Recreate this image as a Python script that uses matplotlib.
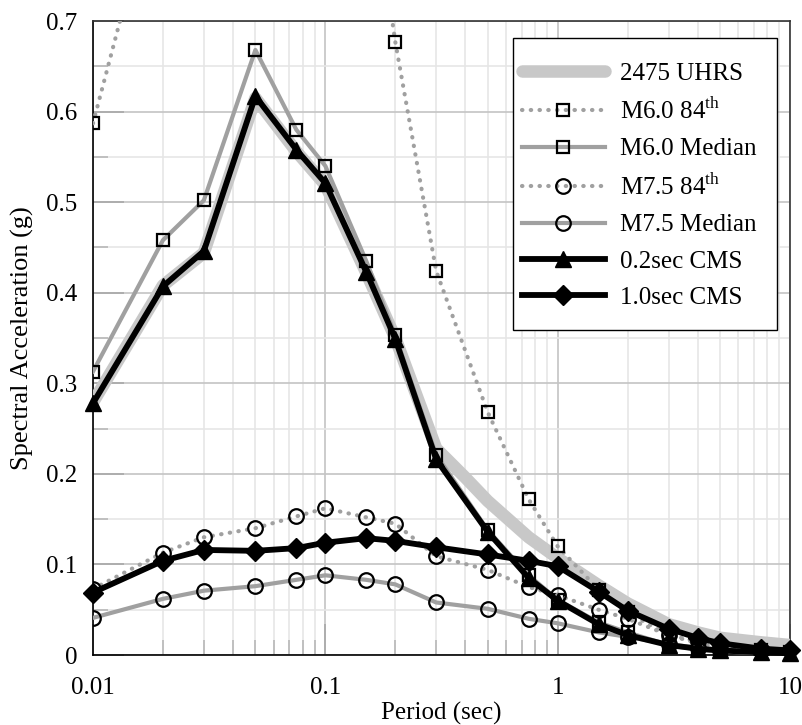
import matplotlib
matplotlib.use("Agg")
import matplotlib.pyplot as plt
from matplotlib.patches import Rectangle
from matplotlib.ticker import FixedLocator, NullFormatter, FixedFormatter

plt.rcParams['font.family'] = ['Liberation Serif', 'DejaVu Serif']
plt.rcParams['mathtext.fontset'] = 'custom'
plt.rcParams['mathtext.rm'] = 'Liberation Serif'

periods = [0.01, 0.02, 0.03, 0.05, 0.075, 0.1, 0.15, 0.2, 0.3, 0.5, 0.75,
           1.0, 1.5, 2.0, 3.0, 4.0, 5.0, 7.5, 10.0]
uhrs_periods = [0.01, 0.02, 0.03, 0.05, 0.075, 0.1, 0.15, 0.2, 0.3, 0.4, 0.5,
                0.75, 1.0, 1.5, 2.0, 3.0, 4.0, 5.0, 7.5, 10.0]
uhrs = [0.279, 0.408, 0.444, 0.615, 0.556, 0.519, 0.422, 0.350, 0.228, 0.196,
        0.170, 0.130, 0.107, 0.077, 0.057, 0.034, 0.025, 0.019, 0.014, 0.011]
m60_84 = [0.587, 0.88, 0.95, 1.20, 1.10, 1.05, 0.90, 0.677, 0.424, 0.268, 0.172,
          0.120, 0.072, 0.047, 0.022, 0.013, 0.009, 0.005, 0.003]
m60_med = [0.313, 0.458, 0.502, 0.668, 0.580, 0.540, 0.435, 0.353, 0.221, 0.138,
           0.088, 0.061, 0.036, 0.025, 0.011, 0.006, 0.004, 0.002, 0.001]
m75_84 = [0.073, 0.113, 0.130, 0.140, 0.153, 0.162, 0.152, 0.145, 0.109, 0.094,
          0.075, 0.066, 0.050, 0.040, 0.022, 0.015, 0.011, 0.006, 0.004]
m75_med = [0.041, 0.062, 0.071, 0.076, 0.083, 0.088, 0.083, 0.078, 0.058, 0.051,
           0.040, 0.035, 0.025, 0.020, 0.012, 0.008, 0.006, 0.003, 0.002]
cms_02 = [0.278, 0.407, 0.446, 0.617, 0.558, 0.521, 0.423, 0.349, 0.216, 0.136,
          0.085, 0.060, 0.034, 0.022, 0.011, 0.007, 0.005, 0.003, 0.002]
cms_10 = [0.069, 0.104, 0.116, 0.115, 0.118, 0.124, 0.129, 0.126, 0.119, 0.111,
          0.104, 0.098, 0.070, 0.049, 0.029, 0.019, 0.013, 0.007, 0.005]

labels = ['2475 UHRS', 'M6.0 84$^{\\mathrm{th}}$', 'M6.0 Median',
          'M7.5 84$^{\\mathrm{th}}$', 'M7.5 Median', '0.2sec CMS', '1.0sec CMS']
xticks = [0.01, 0.1, 1, 10]
xticklabels = ['0.01', '0.1', '1', '10']
yticks = [0, 0.1, 0.2, 0.3, 0.4, 0.5, 0.6, 0.7]
yticklabels = ['0', '0.1', '0.2', '0.3', '0.4', '0.5', '0.6', '0.7']

fig = plt.figure(figsize=(8.03, 7.25), dpi=100)
ax = fig.add_axes([93/803, 70/725, 697/803, 634/725])
ax.set_xscale('log')
ax.set_xlim(0.01, 10)
ax.set_ylim(0, 0.7)

gray = '#a0a0a0'
dots = (0, (0.1, 2.0))
ax.plot(uhrs_periods, uhrs, color='#c8c8c8', lw=9, solid_capstyle='round',
        solid_joinstyle='round', label=labels[0], zorder=3)
ax.plot(periods, m60_84, color=gray, lw=3, ls=dots, dash_capstyle='round',
        marker='s', ms=9, mfc='none', mec='black', mew=1.6, label=labels[1], zorder=4)
ax.plot(periods, m60_med, color=gray, lw=3,
        marker='s', ms=9, mfc='none', mec='black', mew=1.6, label=labels[2], zorder=4)
ax.plot(periods, m75_84, color=gray, lw=3, ls=dots, dash_capstyle='round',
        marker='o', ms=10.5, mfc='none', mec='black', mew=1.6, label=labels[3], zorder=4)
ax.plot(periods, m75_med, color=gray, lw=3,
        marker='o', ms=10.5, mfc='none', mec='black', mew=1.6, label=labels[4], zorder=4)
ax.plot(periods, cms_02, color='black', lw=4.2,
        marker='^', ms=12, mfc='black', mec='black', label=labels[5], zorder=5,
        clip_on=False)
ax.plot(periods, cms_10, color='black', lw=4.2,
        marker='D', ms=10.5, mfc='black', mec='black', label=labels[6], zorder=5,
        clip_on=False)

# grid and ticks
minor_x = [m * 10.0**e for e in (-2, -1, 0) for m in range(2, 10)]
ax.xaxis.set_major_locator(FixedLocator(xticks))
ax.xaxis.set_major_formatter(FixedFormatter(xticklabels))
ax.xaxis.set_minor_locator(FixedLocator(minor_x))
ax.xaxis.set_minor_formatter(NullFormatter())
ax.yaxis.set_major_locator(FixedLocator(yticks))
ax.yaxis.set_major_formatter(FixedFormatter(yticklabels))
ax.yaxis.set_minor_locator(FixedLocator([0.05, 0.15, 0.25, 0.35, 0.45, 0.55, 0.65]))
ax.grid(True, which='major', color='#c4c4c4', lw=1.2, zorder=0)
ax.grid(True, which='minor', color='#e6e6e6', lw=1.2, zorder=0)
ax.set_axisbelow(True)
ax.tick_params(which='major', direction='in', length=22, width=1.2, color='#a8a8a8',
               labelsize=18, pad=11)
ax.tick_params(which='minor', direction='in', length=11, width=1.2, color='#b8b8b8')
ax.tick_params(axis='x', which='major', pad=16)
for s in ax.spines.values():
    s.set_color('#333333')
    s.set_linewidth(1.2)
ax.spines['left'].set_color('black')
ax.spines['bottom'].set_color('black')

ax.set_xlabel('Period (sec)', fontsize=18, labelpad=2)
ax.set_ylabel('Spectral Acceleration (g)', fontsize=19, labelpad=9)

leg = ax.legend(loc='upper left', bbox_to_anchor=(522/803, 1 - 62/725),
                bbox_transform=fig.transFigure, fontsize=18, frameon=False,
                handlelength=3.3, labelspacing=0.55, borderpad=0,
                handletextpad=0.6, borderaxespad=0)
leg.set_zorder(10)
box = Rectangle((513/803, 1 - 330/725), 264/803, 292/725, transform=fig.transFigure,
                facecolor='white', edgecolor='black', lw=1.0, zorder=9)
ax.add_artist(box)
box.set_clip_on(False)

fig.savefig('out.png', dpi=100)
